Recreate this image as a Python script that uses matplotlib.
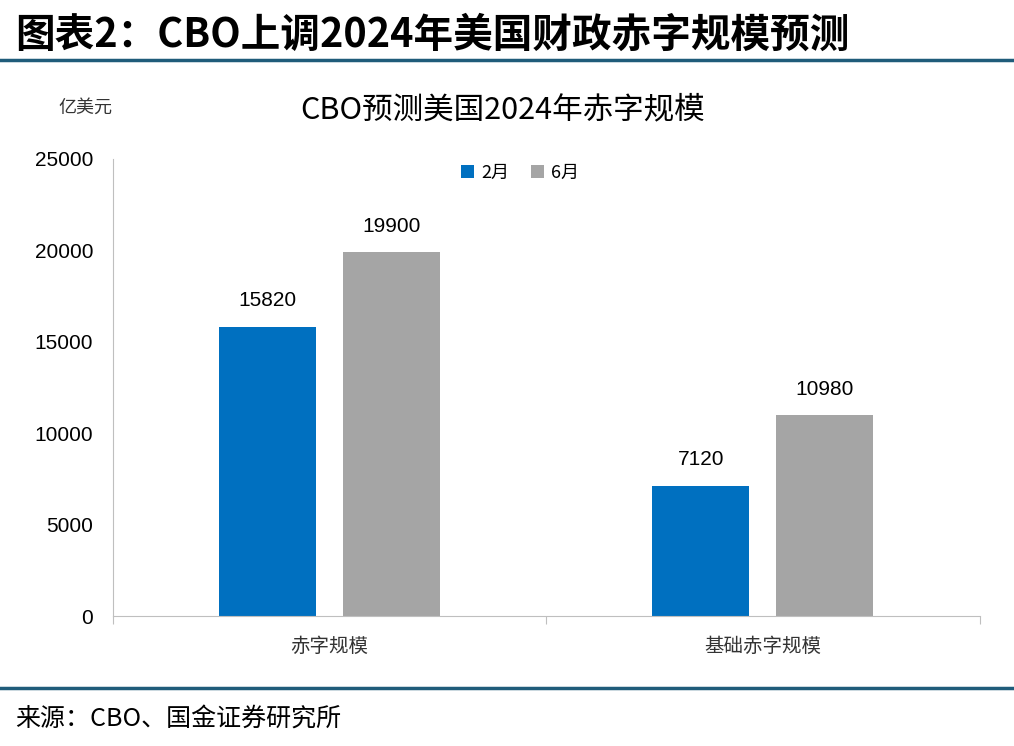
import numpy as np
import matplotlib
matplotlib.use('Agg')
import matplotlib.pyplot as plt

plt.rcParams['font.family'] = ['Noto Sans CJK SC', 'DejaVu Sans']

categories = ['赤字规模', '基础赤字规模']
series_names = ['2月', '6月']
feb_values = [15820, 7120]
jun_values = [19900, 10980]
yticks = [0, 5000, 10000, 15000, 20000, 25000]

colors = ['#0070C0', '#A5A5A5']

fig = plt.figure(figsize=(10.14, 7.46), dpi=100)
ax = fig.add_axes([0.111, 0.174, 0.855, 0.613])

x = np.arange(len(categories))
w = 0.224
off = 0.143
b1 = ax.bar(x - off, feb_values, w, color=colors[0], label=series_names[0])
b2 = ax.bar(x + off, jun_values, w, color=colors[1], label=series_names[1])

for bars, vals in [(b1, feb_values), (b2, jun_values)]:
    for r, v in zip(bars, vals):
        ax.text(r.get_x() + r.get_width() / 2, v + 900, str(v),
                ha='center', va='bottom', fontsize=15, family='Liberation Sans')

ax.set_xlim(-0.5, 1.5)
ax.set_ylim(0, 25000)
ax.set_yticks(yticks)
ax.set_yticklabels([str(t) for t in yticks], fontsize=15, family='Liberation Sans')
ax.set_xticks([-0.5, 0.5, 1.5], minor=False)
ax.set_xticklabels([])
ax.set_xticks(x, minor=True)
ax.set_xticklabels(categories, minor=True, fontsize=14, color='#333333')
ax.tick_params(axis='x', which='minor', length=0, pad=14)
ax.tick_params(axis='x', which='major', length=6, color='#BFBFBF', direction='out')
ax.tick_params(axis='y', length=0, pad=14)

for s in ['top', 'right']:
    ax.spines[s].set_visible(False)
ax.spines['left'].set_color('#BFBFBF')
ax.spines['bottom'].set_color('#BFBFBF')

ax.legend(loc='upper center', bbox_to_anchor=(0.47, 1.025), ncol=2, frameon=False,
          fontsize=13, handlelength=0.7, handleheight=0.7, columnspacing=1.2,
          handletextpad=0.4)

fig.text(0.496, 0.853, 'CBO预测美国2024年赤字规模', ha='center', va='center', fontsize=22)
fig.text(0.084, 0.855, '亿美元', ha='center', va='center', fontsize=13, color='#333333')

fig.text(0.015, 0.953, '图表2：CBO上调2024年美国财政赤字规模预测', ha='left', va='center',
         fontsize=28.5, fontweight='bold')
fig.add_artist(plt.Line2D([0, 1], [0.919, 0.919], color='#1F5C7A', lw=2.5))
fig.add_artist(plt.Line2D([0, 1], [0.078, 0.078], color='#1F5C7A', lw=2.5))
fig.text(0.015, 0.037, '来源：CBO、国金证券研究所', ha='left', va='center', fontsize=18)

fig.savefig('out.png', dpi=100)
